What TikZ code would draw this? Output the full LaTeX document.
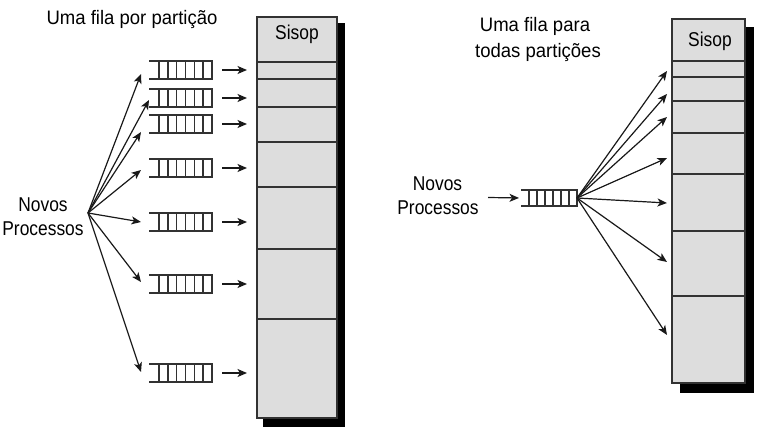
\documentclass[tikz,border=0pt]{standalone}
\usepackage{fontspec}
\setmainfont{Liberation Sans}
\newfontfamily\labfont[FakeStretch=0.87]{Liberation Sans}
\newfontfamily\titfont[FakeStretch=0.95]{Liberation Sans}
\usetikzlibrary{arrows.meta,calc}
\definecolor{memfill}{RGB}{221,221,221}
\definecolor{lin}{RGB}{50,50,50}
\newcommand\fila[6]{% name, x left, x right, y center, height, cell step
  \node[qnode, minimum width={#3-#2}, minimum height=#5] (#1) at ({(#2+#3)/2},#4) {};
  \draw[qline] (#1.north west) -- (#1.north east) -- (#1.south east) -- (#1.south west);
  \foreach \k in {1,...,6}
    \draw[qline] ($(#1.north east)+(-#6*\k,0)$) -- ($(#1.south east)+(-#6*\k,0)$);
}
\begin{document}
\begin{tikzpicture}[x=1pt,y=-1pt,
  qnode/.style={draw=none,inner sep=0pt,outer sep=0pt},
  qline/.style={draw=lin,line width=1.35pt},
  part/.style={draw=lin,fill=memfill,line width=1.2pt,inner sep=0pt,outer sep=0pt,anchor=north west},
  arr/.style={draw=black!90,line width=1.2pt,-{Stealth[length=9.5pt,width=8pt,inset=2.5pt]}},
  lab/.style={inner sep=0pt,anchor=base,font=\fontsize{20}{24}\labfont},
  tit/.style={inner sep=0pt,anchor=base,font=\fontsize{19.5}{24}\titfont}]
\useasboundingbox (0,0) rectangle (765,427);

% ---------------- left diagram ----------------
\node[tit] (t1) at (132,25) {Uma fila por partição};
\fill[black] (263,23) rectangle (345,427);
\foreach \a/\b [count=\i] in {17/62,62/79,79/107,107/142,142/187,187/249,249/319,319/418}
  \node[part, minimum width=80, minimum height={\b-\a}] (L\i) at (257,\a) {};
\node[lab] (s1) at (297,40) {Sisop};

\fila{q1}{149}{212}{70}{18}{8.83}
\fila{q2}{149}{212}{98}{18}{8.83}
\fila{q3}{149}{212}{124}{18}{8.83}
\fila{q4}{149}{212}{168}{18}{8.83}
\fila{q5}{149}{212}{222}{18}{8.83}
\fila{q6}{149}{212}{284}{18}{8.83}
\fila{q7}{149}{212}{373}{18}{8.83}

\node[lab] (n1) at (43,212) {Novos};
\node[lab] (p1) at (43,236) {Processos};
\coordinate (src) at (88,213);

\coordinate (e1) at (141,74);
\coordinate (e2) at (149,100);
\coordinate (e3) at (141,132);
\coordinate (e4) at (141,170);
\coordinate (e5) at (141,222);
\coordinate (e6) at (141,282);
\coordinate (e7) at (141,372);
\foreach \i in {1,...,7} {
  \draw[arr] (src) -- (e\i);
  \draw[arr] ($(q\i.east)+(10,0)$) -- ($(q\i.east)+(35,0)$);
}

% ---------------- right diagram ----------------
\node[tit] (t2) at (535,32) {Uma fila para};
\node[tit] (t3) at (538,58) {todas partições};
\fill[black] (680,27) rectangle (754,393);
\foreach \a/\b [count=\i] in {19/61,61/77,77/101,101/133,133/174,174/231,231/296,296/383}
  \node[part, minimum width=73, minimum height={\b-\a}] (R\i) at (672,\a) {};
\node[lab] (s2) at (710,46.5) {Sisop};

\fila{rq}{521}{577}{198}{16}{8}
\node[lab] (n2) at (437.5,191) {Novos};
\node[lab] (p2) at (438,215) {Processos};
\coordinate (in) at (488,197.5);
\draw[arr, shorten >=2pt] (in) -- (rq.west);

\foreach \y [count=\i] in {71,94,117,158,203,262,335} {
  \coordinate (f\i) at (667,\y);
  \draw[arr] (rq.east) -- (f\i);
}
\end{tikzpicture}
\end{document}
